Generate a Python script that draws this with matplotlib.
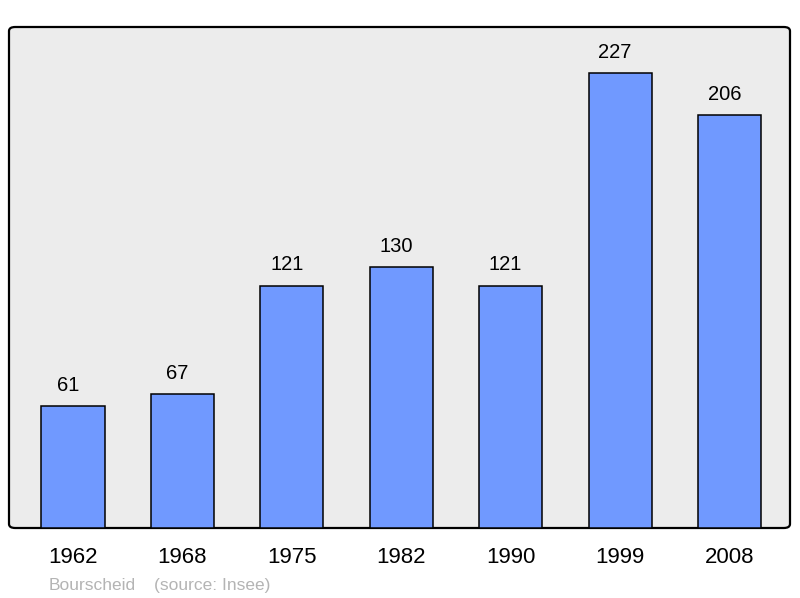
import matplotlib.pyplot as plt
from matplotlib.patches import FancyBboxPatch

years = ['1962', '1968', '1975', '1982', '1990', '1999', '2008']
population = [61, 67, 121, 130, 121, 227, 206]

plt.rcParams['font.family'] = ['Liberation Sans', 'DejaVu Sans']

fig = plt.figure(figsize=(8, 5.98), dpi=100)
ax = fig.add_axes([9 / 800, 1 - 528 / 598, 781 / 800, 501 / 598])
ax.set_facecolor('none')

# rounded frame behind the bars
frame = FancyBboxPatch((0, 0), 1, 1, boxstyle='round,pad=0,rounding_size=0.008',
                       transform=ax.transAxes, facecolor='#ececec',
                       edgecolor='black', linewidth=1.6, zorder=0, clip_on=False)
ax.add_patch(frame)

x = range(len(years))
ax.bar(x, population, width=0.576, color='#7099ff', edgecolor='black',
       linewidth=1.1, zorder=2)
for i, v in zip(x, population):
    ax.annotate(str(v), (i, v), xytext=(-3.6, 8), textcoords='offset points',
                ha='center', va='bottom', fontsize=14.5)

ax.set_xlim(-0.585, 6.553)
ax.set_ylim(0, 250)
for s in ax.spines.values():
    s.set_visible(False)
ax.set_yticks([])
ax.set_xticks(list(x))
ax.set_xticklabels(years, fontsize=16)
ax.tick_params(axis='x', length=0, pad=14)

fig.text(49 / 800, 1 - 590 / 598, 'Bourscheid', color='#b4b4b4', fontsize=12.5, va='baseline')
fig.text(154 / 800, 1 - 590 / 598, '(source: Insee)', color='#b4b4b4', fontsize=12.5, va='baseline')

fig.savefig('out.png', dpi=100)
